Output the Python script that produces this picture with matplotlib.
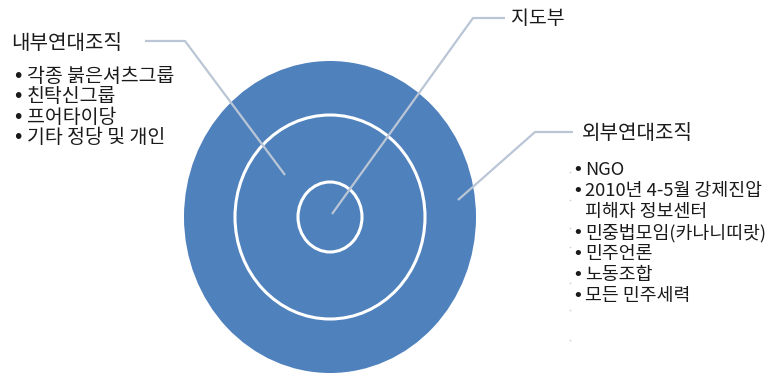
import matplotlib
matplotlib.use("Agg")
import matplotlib.pyplot as plt
from matplotlib.patches import Ellipse

plt.rcParams['font.family'] = ['Noto Sans CJK KR', 'DejaVu Sans']

# ring layout (pixel units): outer disc, middle ring, inner ring
ring_names = ["외부연대조직", "내부연대조직", "지도부"]
ring_rx = [146, 95, 32]
ring_ry = [156, 102, 35]
center = (330, 217)

inner_title = "내부연대조직"
inner_items = ["각종 붉은셔츠그룹", "친탁신그룹", "프어타이당", "기타 정당 및 개인"]

outer_title = "외부연대조직"
outer_items = ["NGO", "2010년 4-5월 강제진압\n피해자 정보센터",
               "민중법모임(카나니띠랏)", "민주언론", "노동조합", "모든 민주세력"]

core_title = "지도부"

# leader lines: label end -> elbow -> point in ring
leaders = {
    "내부연대조직": [(145, 41), (185, 41), (285, 175)],
    "지도부": [(505, 18), (473, 18), (332, 214)],
    "외부연대조직": [(573, 132), (535, 132), (458, 200)],
}

# faint leftover marks next to the right list
speck_y = [172, 200, 228, 247, 283, 310, 340]

blue = "#4F81BD"
line_c = "#BAC6D6"
text_c = "#1a1a1a"

fig = plt.figure(figsize=(7.84, 3.74), dpi=100)
ax = fig.add_axes([0, 0, 1, 1])
ax.set_xlim(0, 784)
ax.set_ylim(374, 0)
ax.axis("off")

# outer filled disc
ax.add_patch(Ellipse(center, 2 * ring_rx[0], 2 * ring_ry[0], facecolor=blue, edgecolor="none"))
# white rings
for rx, ry in zip(ring_rx[1:], ring_ry[1:]):
    ax.add_patch(Ellipse(center, 2 * rx, 2 * ry, facecolor="none", edgecolor="white", lw=2.2))

for name, pts in leaders.items():
    xs, ys = zip(*pts)
    ax.plot(xs, ys, color=line_c, lw=1.6, solid_capstyle="butt")

ax.scatter([570] * len(speck_y), speck_y, s=1.5, color="#d0d0d0", lw=0)

# left block
ax.text(11, 43, inner_title, fontsize=14.5, color=text_c, va="center", ha="left")
y = 76
for item in inner_items:
    ax.text(12, y, "•", fontsize=14, color=text_c, va="center", ha="left",
            family="DejaVu Sans")
    ax.text(27, y, item, fontsize=14, color=text_c, va="center", ha="left")
    y += 20.5

# core label
ax.text(511, 18, core_title, fontsize=14, color=text_c, va="center", ha="left")

# right block
ax.text(582, 133, outer_title, fontsize=14.5, color=text_c, va="center", ha="left")
y = 170
for item in outer_items:
    for k, part in enumerate(item.split("\n")):
        if k == 0:
            ax.text(572, y, "•", fontsize=13, color=text_c, va="center", ha="left",
                    family="DejaVu Sans")
        ax.text(585, y, part, fontsize=13.2, color=text_c, va="center", ha="left")
        y += 21

fig.savefig("out.png", dpi=100)
